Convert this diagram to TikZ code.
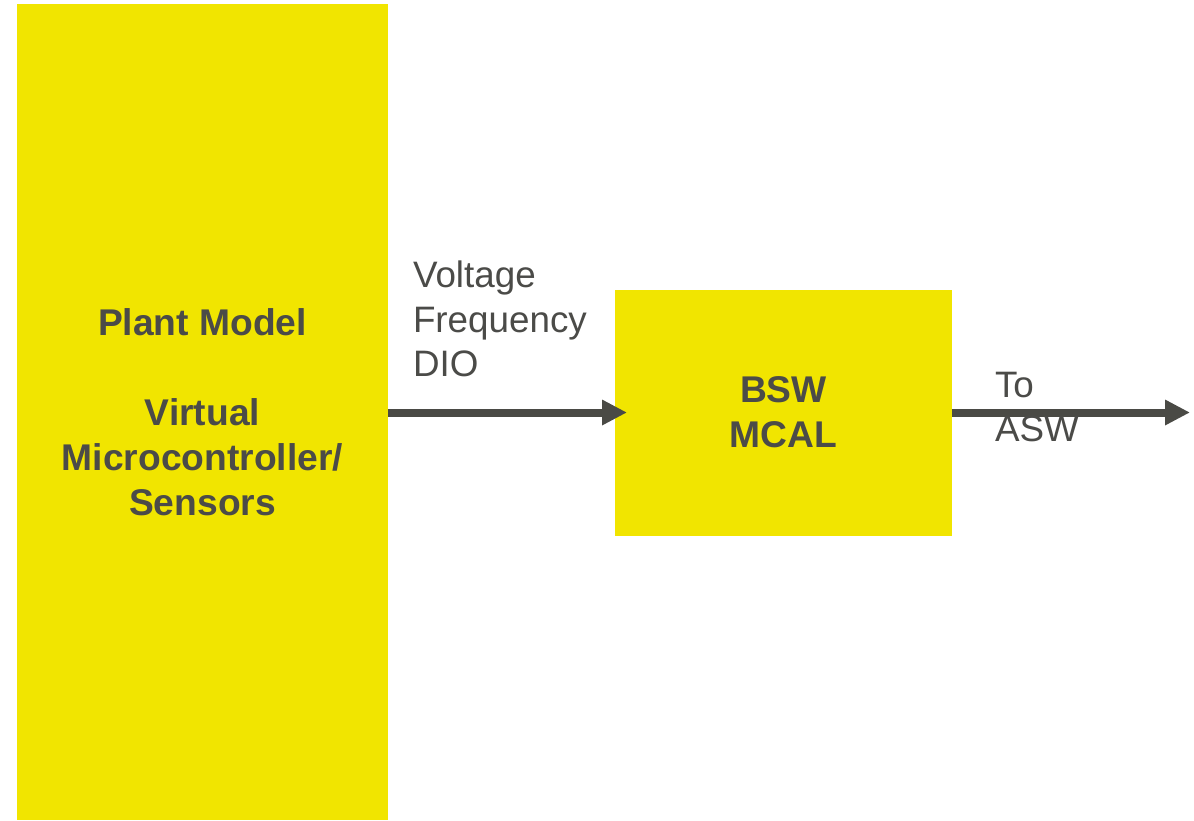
\documentclass[tikz,border=0pt]{standalone}
\usepackage{fontspec}
\setmainfont{Liberation Sans}
\usetikzlibrary{arrows.meta}
\definecolor{blockBg}{HTML}{F1E500}
\definecolor{textGrey}{HTML}{4B4B48}
\definecolor{arrowGrey}{HTML}{4A4A45}
\tikzset{
blockstyle/.style={rectangle, inner sep=0pt, outer sep=0pt, fill=blockBg, text=textGrey, align=center, font=\fontsize{18.6}{22.5}\selectfont\bfseries},
labelstyle/.style={inner sep=0pt, outer sep=0pt, text=textGrey, align=left, anchor=north west, font=\fontsize{18.4}{22.25}\selectfont},
arrowstyle/.style={arrowGrey, line width=4pt, -{Triangle[length=12.5pt,width=12pt]}}
}
\newcommand{\blockbox}[6]{
  \node [blockstyle, minimum width=#4pt, minimum height=#5pt] (#1) at (#2,#3) {#6};
}
\begin{document}
\begin{tikzpicture}[x=0.5pt,y=-0.5pt]
\useasboundingbox (0,0) rectangle (1194,820);

\blockbox{plant}{202.5}{412}{185.5}{408}{Plant Model\\[22.5pt]Virtual\\Microcontroller/\\Sensors}
\blockbox{bsw}{783.5}{412.5}{168.5}{123}{BSW\\MCAL}

\coordinate (aswend) at (1190,412.5);

\draw [arrowstyle] (plant.east |- bsw.west) -- ([xshift=6pt]bsw.west);
\draw [arrowstyle] (bsw.east) -- (aswend);

\node [labelstyle] (signals) at (413,261) {Voltage\\Frequency\\DIO};
\node [labelstyle] (toasw) at (995,372) {To\\ASW};

\end{tikzpicture}
\end{document}
